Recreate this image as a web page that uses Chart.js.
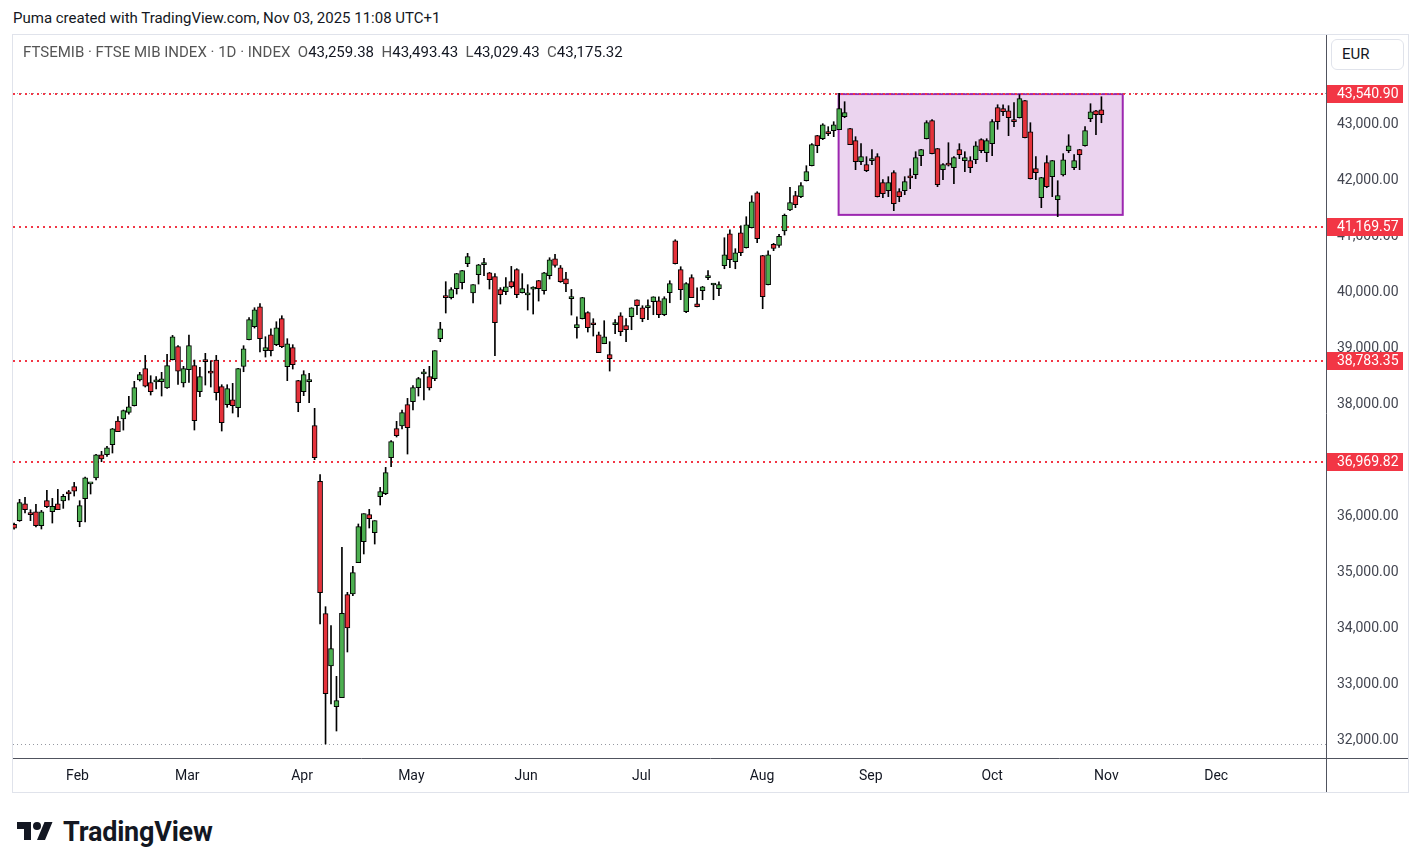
<!DOCTYPE html>
<html lang="en">
<head>
<meta charset="UTF-8">
<title>FTSEMIB 1D</title>
<script src="https://cdn.jsdelivr.net/npm/chart.js@4.4.0/dist/chart.umd.js"></script>
<style>
  * { margin: 0; padding: 0; box-sizing: border-box; }
  body { width: 1421px; height: 868px; background: #fff; position: relative; overflow: hidden;
         font-family: Roboto, "Noto Sans", sans-serif; color: #131722; }
  #hdr { position: absolute; left: 13px; top: 9px; font-size: 15px; }
  #frame { position: absolute; left: 12px; top: 34px; width: 1397px; height: 759px; border: 1px solid #e0e3eb; }
  #chart { position: absolute; left: 13px; top: 35px; }
  #legend { position: absolute; left: 23px; top: 43px; font-size: 15px; color: #555; white-space: pre; }
  #legend b { font-weight: 400; color: #131722; }
  #eur { position: absolute; left: 1331px; top: 39px; width: 73px; height: 31px; border: 1px solid #e0e3eb;
         border-radius: 6px; font-size: 15px; line-height: 29px; padding-left: 10px; background: #fff; }
  #logo { position: absolute; left: 15px; top: 816px; display: flex; align-items: center; }
  #logo span { font-size: 27px; font-weight: 700; margin-left: 8px; letter-spacing: -0.2px; }
</style>
</head>
<body>
<div id="hdr">Puma created with TradingView.com, Nov 03, 2025 11:08 UTC+1</div>
<div id="frame"></div>
<canvas id="chart" width="1395" height="757"></canvas>
<div id="legend">FTSEMIB · FTSE MIB INDEX · 1D · INDEX  O<b>43,259.38</b>  H<b>43,493.43</b>  L<b>43,029.43</b>  C<b>43,175.32</b></div>
<div id="eur">EUR</div>
<div id="logo">
  <svg width="40" height="28" viewBox="0 0 36 28"><path d="M14 22H7V11H0V4h14v18zM28 22h-8l7.5-18h8L28 22z" fill="#131722"/><circle cx="20" cy="8" r="4" fill="#131722"/></svg>
  <span>TradingView</span>
</div>
<script>
// daily candles, Jan 16 2025 .. Nov 03 2025 (index 0 = first bar)
const open = [
  35860, 35923, 36226, 36066, 36083, 35833, 36280, 36083, 36226, 36274,
  36440, 36530, 35905, 36316, 36580, 36685, 37101, 37101, 37280, 37702,
  37738, 37857, 37976, 38435, 38637, 38387, 38402, 38405, 38292, 38798,
  39030, 38381, 38619, 38691, 38226, 38798, 38565, 38792, 38316, 37994,
  38083, 37941, 38679, 39155, 39387, 39744, 38958, 39244, 39066, 39530,
  38673, 39012, 38423, 38226, 38405, 37619, 36625, 34262, 33328, 32602,
  32762, 34602, 34614, 35173, 35548, 36030, 35709, 36352, 36405, 37048,
  37566, 37613, 37994, 38048, 38298, 38545, 38494, 38459, 39173, 39941,
  39905, 40066, 40173, 40512, 39988, 40316, 40494, 40351, 40280, 40048,
  40012, 40191, 40405, 39994, 39955, 40058, 40209, 40030, 40298, 40600,
  40440, 40244, 39887, 39369, 39530, 39637, 39425, 39244, 39083, 38887,
  39423, 39583, 39405, 39565, 39869, 39726, 39726, 39833, 39851, 39601,
  39994, 40922, 40405, 39655, 40262, 39797, 40030, 40262, 40131, 40065,
  40476, 41047, 40547, 41065, 40797, 41155, 41779, 40655, 40137, 40858,
  40840, 41096, 41471, 41727, 41709, 41994, 42262, 42798, 42744, 42869,
  42887, 42905, 43137, 42923, 42709, 42334, 42280, 42352, 42423, 41959,
  41816, 42137, 41798, 41816, 42050, 42102, 42441, 42744, 43066, 42566,
  42191, 42277, 42227, 42548, 42352, 42352, 42369, 42727, 42494, 42655,
  43298, 43280, 43244, 43054, 43119, 43423, 42869, 42209, 41691, 42316,
  42066, 41655, 42096, 42530, 42227, 42548, 42619, 43101, 43244, 43259.38
];
const high = [
  35880, 36304, 36339, 36119, 36214, 36107, 36464, 36321, 36482, 36393,
  36464, 36607, 36280, 36702, 36590, 37107, 37161, 37250, 37571, 37780,
  37899, 38143, 38411, 38572, 38875, 38512, 38494, 38572, 38893, 39232,
  39048, 38679, 39238, 38792, 38661, 38911, 38780, 38875, 38351, 38351,
  38375, 38643, 39048, 39548, 39726, 39798, 39208, 39351, 39476, 39583,
  39173, 39066, 38429, 38601, 38554, 37929, 36744, 34387, 34048, 33143,
  35447, 34643, 35108, 35864, 36048, 36125, 35923, 36518, 36875, 37352,
  37697, 37899, 38107, 38334, 38482, 38625, 38679, 38959, 39465, 40191,
  40084, 40339, 40393, 40697, 40137, 40500, 40607, 40357, 40334, 40084,
  40262, 40464, 40423, 40334, 40137, 40101, 40214, 40357, 40619, 40680,
  40480, 40357, 40053, 39565, 39911, 39655, 39530, 39292, 39494, 39119,
  39512, 39637, 39530, 39726, 39869, 39762, 39869, 39922, 39922, 39922,
  40208, 40940, 40458, 40173, 40315, 40083, 40107, 40387, 40155, 40190,
  40976, 41119, 40780, 41190, 41351, 41726, 41797, 40661, 40744, 40876,
  41036, 41399, 41875, 41804, 41959, 42262, 42655, 42804, 43012, 42959,
  43048, 43555, 43405, 42929, 42780, 42655, 42423, 42548, 42477, 42012,
  42066, 42173, 41852, 42066, 42209, 42512, 42554, 43066, 43084, 42572,
  42298, 42673, 42423, 42655, 42512, 42423, 42691, 42744, 42744, 43084,
  43351, 43351, 43334, 43387, 43530, 43429, 43030, 42423, 42054, 42441,
  42357, 41994, 42477, 42816, 42459, 42554, 42959, 43369, 43250, 43493.43
];
const low = [
  35770, 35911, 36060, 35923, 35810, 35774, 36155, 35881, 36119, 36143,
  36292, 36363, 35815, 35899, 36399, 36649, 36976, 37071, 37131, 37512,
  37541, 37827, 37970, 38417, 38310, 38167, 38274, 38149, 38286, 38792,
  38357, 38310, 38393, 37542, 38137, 38345, 38310, 38077, 37524, 37947,
  37845, 37774, 38583, 39149, 39363, 38935, 38845, 38863, 39048, 39012,
  38423, 38631, 37869, 38155, 38030, 37012, 34078, 31935, 32649, 32167,
  32762, 33578, 34584, 35173, 35328, 35792, 35506, 36203, 36387, 36887,
  37417, 37560, 37113, 37899, 38149, 38078, 38256, 38423, 39119, 39631,
  39881, 39970, 40060, 40459, 39810, 40149, 40298, 40060, 38869, 39792,
  39959, 40078, 39905, 39988, 39685, 39613, 39845, 39970, 40238, 40450,
  40178, 40012, 39595, 39184, 39524, 39292, 39220, 38923, 39083, 38595,
  39262, 39226, 39119, 39333, 39601, 39476, 39512, 39601, 39548, 39583,
  39815, 40506, 39869, 39637, 39905, 39738, 39869, 40226, 39869, 39940,
  40422, 40440, 40422, 40655, 40791, 41149, 40887, 39708, 40131, 40745,
  40804, 41024, 41459, 41512, 41691, 41988, 42256, 42494, 42727, 42798,
  42780, 42905, 43119, 42637, 42191, 42280, 42155, 42280, 41703, 41691,
  41709, 41459, 41619, 41744, 41852, 42030, 42262, 42738, 42471, 41887,
  42012, 42256, 41941, 42387, 42155, 42137, 42298, 42494, 42334, 42441,
  42912, 43155, 42798, 42959, 43113, 42756, 42024, 42012, 41512, 41869,
  41709, 41352, 42078, 42494, 42191, 42191, 42613, 43048, 42816, 43029.43
];
const close = [
  35790, 36244, 36119, 36030, 35833, 36083, 36173, 36179, 36119, 36357,
  36399, 36452, 36191, 36690, 36586, 37101, 37024, 37226, 37565, 37512,
  37887, 37958, 38298, 38530, 38327, 38226, 38410, 38458, 38691, 39208,
  38595, 38637, 39048, 37708, 38494, 38762, 38558, 38208, 37673, 38280,
  37976, 38637, 38994, 39512, 39690, 39173, 39012, 38958, 39369, 39030,
  39083, 38708, 38030, 38530, 38441, 37048, 34637, 32834, 33637, 32709,
  34268, 34006, 34995, 35816, 36048, 35959, 35923, 36441, 36780, 37334,
  37441, 37852, 37584, 38298, 38459, 38550, 38292, 38959, 39351, 39905,
  40048, 40334, 40387, 40637, 40137, 40494, 40530, 40226, 39459, 39959,
  40101, 40101, 39959, 40066, 39958, 40063, 40066, 40351, 40583, 40480,
  40190, 40149, 39922, 39423, 39905, 39369, 39421, 38923, 39208, 38815,
  39458, 39298, 39333, 39726, 39762, 39530, 39762, 39922, 39601, 39887,
  40155, 40512, 40048, 40155, 39905, 39744, 40101, 40298, 40134, 40137,
  40672, 40583, 40708, 40708, 41208, 41619, 40958, 39922, 40672, 40786,
  41000, 41375, 41602, 41566, 41905, 42155, 42637, 42619, 42994, 42834,
  42994, 43280, 43209, 42637, 42334, 42423, 42173, 42387, 41709, 41762,
  41959, 41584, 41709, 41977, 42046, 42405, 42548, 43030, 42477, 41923,
  42280, 42273, 42405, 42459, 42405, 42227, 42619, 42530, 42709, 43048,
  43048, 43226, 43119, 43050, 43459, 42762, 42030, 42137, 42048, 41887,
  42352, 41727, 42369, 42619, 42352, 42459, 42887, 43226, 43173, 43175.32
];

// time axis labels (bar index where each month starts)
const monthLabels = ['Feb', 'Mar', 'Apr', 'May', 'Jun', 'Jul', 'Aug', 'Sep', 'Oct', 'Nov', 'Dec'];
const monthIndex = [11.6, 31.7, 52.7, 72.7, 93.7, 114.8, 136.9, 156.8, 179, 199.9, 220];

// price axis
const priceTicks = [32000, 33000, 34000, 35000, 36000, 37000, 38000, 39000, 40000, 41000, 42000, 43000];

// horizontal levels and the range box
const levels = [43540.90, 41169.57, 38783.35, 36969.82];
const boxStart = 150.9, boxEnd = 202.9, boxTop = 43540.90, boxBottom = 41384;

const fmt = v => v.toFixed(2).replace(/\B(?=(\d{3})+(?!\d))/g, ',');
const FONT = 'Roboto, "Noto Sans", sans-serif';

const idx = open.map((_, i) => i);
const bodyColors = idx.map(i => close[i] >= open[i] ? '#4caf50' : '#e5323b');

const overlay = {
  id: 'overlay',
  beforeDatasetsDraw(chart) {
    const { ctx, chartArea: a, scales: { x, y } } = chart;
    ctx.save();
    ctx.beginPath();
    ctx.rect(a.left, a.top, a.width, a.height);
    ctx.clip();

    // range box
    const bx1 = x.getPixelForValue(boxStart), bx2 = x.getPixelForValue(boxEnd);
    const by1 = y.getPixelForValue(boxTop), by2 = y.getPixelForValue(boxBottom);
    ctx.fillStyle = 'rgba(156, 39, 176, 0.2)';
    ctx.fillRect(bx1, by1, bx2 - bx1, by2 - by1);
    ctx.strokeStyle = '#9c27b0';
    ctx.lineWidth = 2;
    ctx.strokeRect(bx1, by1, bx2 - bx1, by2 - by1);

    // high / low of visible range
    ctx.strokeStyle = '#9598a1';
    ctx.lineWidth = 1;
    ctx.setLineDash([1, 3]);
    [Math.max(...high), Math.min(...low)].forEach(v => {
      const py = Math.round(y.getPixelForValue(v)) + 0.5;
      ctx.beginPath(); ctx.moveTo(a.left, py); ctx.lineTo(a.right, py); ctx.stroke();
    });

    // red levels
    ctx.strokeStyle = '#f23645';
    ctx.lineWidth = 2;
    ctx.setLineDash([2, 4]);
    levels.forEach(v => {
      const py = Math.round(y.getPixelForValue(v));
      ctx.beginPath(); ctx.moveTo(a.left, py); ctx.lineTo(a.right, py); ctx.stroke();
    });
    ctx.restore();
  },
  afterDraw(chart) {
    const { ctx, chartArea: a, scales: { y }, width, height } = chart;
    ctx.save();
    ctx.strokeStyle = '#50535e';
    ctx.lineWidth = 1;
    ctx.beginPath();
    ctx.moveTo(0, a.bottom + 0.5); ctx.lineTo(width, a.bottom + 0.5);
    ctx.moveTo(a.right + 0.5, 0); ctx.lineTo(a.right + 0.5, height);
    ctx.stroke();

    ctx.font = '14px ' + FONT;
    ctx.textBaseline = 'middle';
    ctx.textAlign = 'left';
    levels.forEach(v => {
      const py = y.getPixelForValue(v);
      ctx.fillStyle = '#f23645';
      ctx.fillRect(a.right + 1, Math.round(py - 9), 76, 18);
      ctx.fillStyle = '#fff';
      ctx.fillText(fmt(v), a.right + 11, py + 0.5);
    });
    ctx.restore();
  }
};

new Chart(document.getElementById('chart'), {
  type: 'bar',
  data: {
    datasets: [
      {
        label: 'body',
        data: idx.map(i => ({ x: i, y: [open[i], close[i]] })),
        backgroundColor: bodyColors,
        borderColor: '#000',
        borderWidth: 1,
        borderSkipped: false,
        barThickness: 5,
        minBarLength: 2,
        grouped: false,
        order: 0
      },
      {
        label: 'wick',
        data: idx.map(i => ({ x: i, y: [low[i], high[i]] })),
        backgroundColor: '#000',
        borderWidth: 0,
        barThickness: 1,
        grouped: false,
        order: 1
      }
    ]
  },
  options: {
    responsive: false,
    animation: false,
    layout: { padding: 0 },
    plugins: { legend: { display: false }, tooltip: { enabled: false } },
    scales: {
      x: {
        type: 'linear',
        offset: false,
        min: -0.2,
        max: 240.1,
        grid: { display: false, drawTicks: false, offset: false },
        border: { display: false },
        afterBuildTicks: s => { s.ticks = monthIndex.map(v => ({ value: v })); },
        afterFit: s => { s.height = 34; s.paddingLeft = 0; s.paddingRight = 0; },
        ticks: {
          autoSkip: false,
          maxRotation: 0,
          padding: 10,
          color: '#131722',
          font: { size: 14, family: FONT },
          callback: v => monthLabels[monthIndex.indexOf(v)] || ''
        }
      },
      y: {
        position: 'right',
        min: 31685,
        max: 44596,
        grid: { display: false, drawTicks: false },
        border: { display: false },
        afterBuildTicks: s => { s.ticks = priceTicks.map(v => ({ value: v })); },
        afterFit: s => { s.width = 82; s.paddingTop = 0; s.paddingBottom = 0; },
        ticks: {
          padding: 11,
          color: '#434651',
          font: { size: 14, family: FONT },
          callback: v => fmt(v)
        }
      }
    }
  },
  plugins: [overlay]
});
</script>
</body>
</html>
